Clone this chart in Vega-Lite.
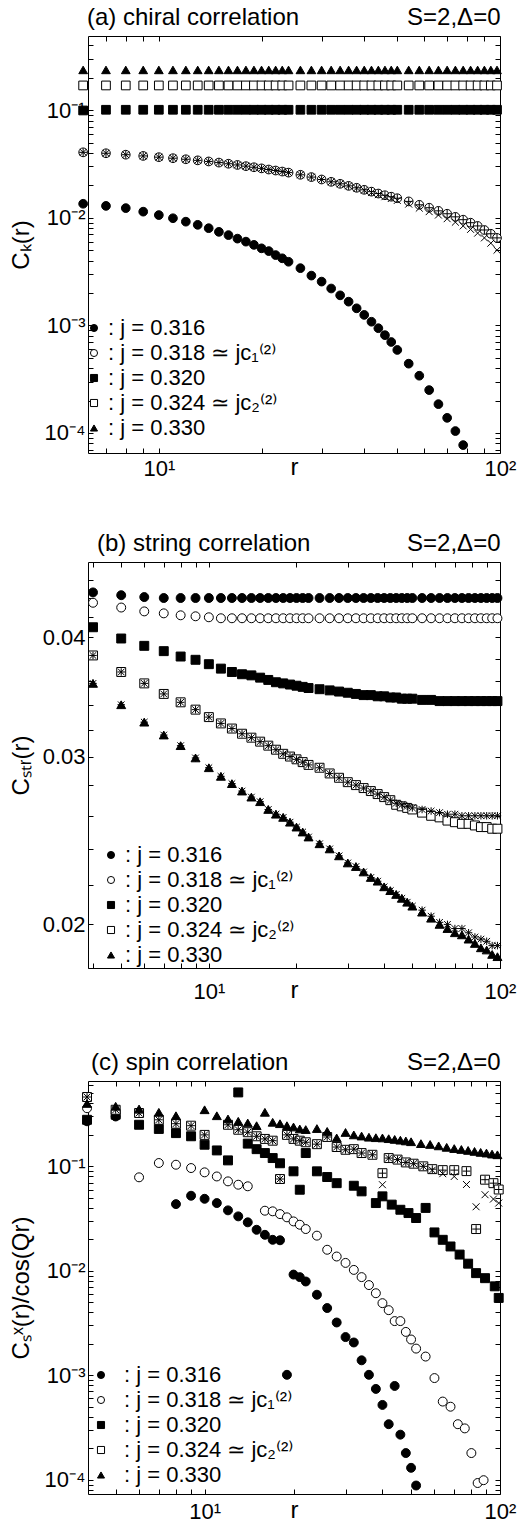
{
 "$schema": "https://vega.github.io/schema/vega-lite/v6.json",
 "background": "white",
 "padding": {"left": 8, "right": 0, "top": 5, "bottom": 0},
 "config": {
  "font": "Liberation Sans",
  "view": {"stroke": "black", "strokeWidth": 1},
  "axis": {"grid": false, "domain": false, "tickColor": "black", "tickSize": -5, "tickWidth": 1, "labelColor": "black", "labelFontSize": 22, "labelFont": "Liberation Sans", "titleFont": "Liberation Sans", "titleFontSize": 24, "titleFontWeight": "normal", "titleColor": "black", "labelOverlap": false, "labelFlush": false, "labelBound": false},
  "axisLeft": {"minExtent": 49, "maxExtent": 49, "titlePadding": 6},
  "legend": {"orient": "none", "direction": "vertical", "title": null, "labelFontSize": 22, "labelFont": "Liberation Sans", "labelColor": "black", "labelLimit": 400, "symbolSize": 50, "symbolStrokeWidth": 1, "rowPadding": 3, "padding": 0, "symbolOpacity": 1},
  "title": {"fontSize": 24, "fontWeight": "normal", "anchor": "start", "frame": "group", "color": "black", "font": "Liberation Sans"}
 },
 "datasets": {
  "a": [
   {"r":6,"v":0.0135,"s":"0.316"},{"r":7,"v":0.0129,"s":"0.316"},{"r":8,"v":0.0123,"s":"0.316"},{"r":9,"v":0.0114,"s":"0.316"},{"r":10,"v":0.0106,"s":"0.316"},{"r":11,"v":0.0099,"s":"0.316"},{"r":12,"v":0.0092,"s":"0.316"},{"r":13,"v":0.0086,"s":"0.316"},{"r":14,"v":0.008,"s":"0.316"},{"r":15,"v":0.0074,"s":"0.316"},{"r":16,"v":0.0069,"s":"0.316"},{"r":17,"v":0.0064,"s":"0.316"},{"r":18,"v":0.006,"s":"0.316"},{"r":19,"v":0.0056,"s":"0.316"},{"r":20,"v":0.0052,"s":"0.316"},{"r":21,"v":0.0049,"s":"0.316"},{"r":22,"v":0.0045,"s":"0.316"},{"r":23,"v":0.0042,"s":"0.316"},{"r":24,"v":0.0039,"s":"0.316"},{"r":26,"v":0.0034,"s":"0.316"},{"r":28,"v":0.0029,"s":"0.316"},{"r":30,"v":0.00255,"s":"0.316"},{"r":32,"v":0.0022,"s":"0.316"},{"r":34,"v":0.0019,"s":"0.316"},{"r":36,"v":0.00166,"s":"0.316"},{"r":38,"v":0.00144,"s":"0.316"},{"r":40,"v":0.00125,"s":"0.316"},{"r":42,"v":0.00108,"s":"0.316"},{"r":44,"v":0.00094,"s":"0.316"},{"r":46,"v":0.00081,"s":"0.316"},{"r":48,"v":0.0007,"s":"0.316"},{"r":50,"v":0.00059,"s":"0.316"},{"r":54,"v":0.00044,"s":"0.316"},{"r":58,"v":0.00034,"s":"0.316"},{"r":62,"v":0.00025,"s":"0.316"},{"r":66,"v":0.000185,"s":"0.316"},{"r":70,"v":0.000138,"s":"0.316"},{"r":74,"v":0.000104,"s":"0.316"},{"r":78,"v":0.000077,"s":"0.316"},
   {"r":6,"v":0.0406,"s":"0.318"},{"r":7,"v":0.0398,"s":"0.318"},{"r":8,"v":0.0386,"s":"0.318"},{"r":9,"v":0.0376,"s":"0.318"},{"r":10,"v":0.0366,"s":"0.318"},{"r":11,"v":0.0358,"s":"0.318"},{"r":12,"v":0.035,"s":"0.318"},{"r":13,"v":0.0342,"s":"0.318"},{"r":14,"v":0.0334,"s":"0.318"},{"r":15,"v":0.0326,"s":"0.318"},{"r":16,"v":0.0318,"s":"0.318"},{"r":17,"v":0.031,"s":"0.318"},{"r":18,"v":0.0302,"s":"0.318"},{"r":19,"v":0.0295,"s":"0.318"},{"r":20,"v":0.0288,"s":"0.318"},{"r":21,"v":0.0281,"s":"0.318"},{"r":22,"v":0.0275,"s":"0.318"},{"r":23,"v":0.0269,"s":"0.318"},{"r":24,"v":0.0263,"s":"0.318"},{"r":26,"v":0.0251,"s":"0.318"},{"r":28,"v":0.0239,"s":"0.318"},{"r":30,"v":0.0227,"s":"0.318"},{"r":32,"v":0.0216,"s":"0.318"},{"r":34,"v":0.0207,"s":"0.318"},{"r":36,"v":0.0198,"s":"0.318"},{"r":38,"v":0.019,"s":"0.318"},{"r":40,"v":0.0182,"s":"0.318"},{"r":42,"v":0.0175,"s":"0.318"},{"r":44,"v":0.0168,"s":"0.318"},{"r":46,"v":0.0162,"s":"0.318"},{"r":48,"v":0.0157,"s":"0.318"},{"r":50,"v":0.0152,"s":"0.318"},{"r":54,"v":0.0142,"s":"0.318"},{"r":58,"v":0.0132,"s":"0.318"},{"r":62,"v":0.0124,"s":"0.318"},{"r":66,"v":0.0116,"s":"0.318"},{"r":70,"v":0.0109,"s":"0.318"},{"r":74,"v":0.0102,"s":"0.318"},{"r":78,"v":0.0096,"s":"0.318"},{"r":82,"v":0.009,"s":"0.318"},{"r":86,"v":0.0084,"s":"0.318"},{"r":90,"v":0.0077,"s":"0.318"},{"r":94,"v":0.0071,"s":"0.318"},{"r":98,"v":0.0065,"s":"0.318"},
   {"r":6,"v":0.0995,"s":"0.320"},{"r":7,"v":0.101,"s":"0.320"},{"r":8,"v":0.101,"s":"0.320"},{"r":9,"v":0.101,"s":"0.320"},{"r":10,"v":0.101,"s":"0.320"},{"r":11,"v":0.101,"s":"0.320"},{"r":12,"v":0.101,"s":"0.320"},{"r":13,"v":0.101,"s":"0.320"},{"r":14,"v":0.101,"s":"0.320"},{"r":15,"v":0.101,"s":"0.320"},{"r":16,"v":0.101,"s":"0.320"},{"r":17,"v":0.101,"s":"0.320"},{"r":18,"v":0.101,"s":"0.320"},{"r":19,"v":0.101,"s":"0.320"},{"r":20,"v":0.101,"s":"0.320"},{"r":21,"v":0.101,"s":"0.320"},{"r":22,"v":0.101,"s":"0.320"},{"r":23,"v":0.101,"s":"0.320"},{"r":24,"v":0.101,"s":"0.320"},{"r":26,"v":0.101,"s":"0.320"},{"r":28,"v":0.101,"s":"0.320"},{"r":30,"v":0.101,"s":"0.320"},{"r":32,"v":0.101,"s":"0.320"},{"r":34,"v":0.101,"s":"0.320"},{"r":36,"v":0.101,"s":"0.320"},{"r":38,"v":0.101,"s":"0.320"},{"r":40,"v":0.101,"s":"0.320"},{"r":42,"v":0.101,"s":"0.320"},{"r":44,"v":0.101,"s":"0.320"},{"r":46,"v":0.101,"s":"0.320"},{"r":48,"v":0.101,"s":"0.320"},{"r":50,"v":0.101,"s":"0.320"},{"r":54,"v":0.101,"s":"0.320"},{"r":58,"v":0.101,"s":"0.320"},{"r":62,"v":0.101,"s":"0.320"},{"r":66,"v":0.101,"s":"0.320"},{"r":70,"v":0.101,"s":"0.320"},{"r":74,"v":0.101,"s":"0.320"},{"r":78,"v":0.101,"s":"0.320"},{"r":82,"v":0.101,"s":"0.320"},{"r":86,"v":0.101,"s":"0.320"},{"r":90,"v":0.101,"s":"0.320"},{"r":94,"v":0.101,"s":"0.320"},{"r":98,"v":0.101,"s":"0.320"},
   {"r":6,"v":0.17,"s":"0.324"},{"r":7,"v":0.17,"s":"0.324"},{"r":8,"v":0.17,"s":"0.324"},{"r":9,"v":0.17,"s":"0.324"},{"r":10,"v":0.17,"s":"0.324"},{"r":11,"v":0.17,"s":"0.324"},{"r":12,"v":0.17,"s":"0.324"},{"r":13,"v":0.17,"s":"0.324"},{"r":14,"v":0.17,"s":"0.324"},{"r":15,"v":0.17,"s":"0.324"},{"r":16,"v":0.17,"s":"0.324"},{"r":17,"v":0.17,"s":"0.324"},{"r":18,"v":0.17,"s":"0.324"},{"r":19,"v":0.17,"s":"0.324"},{"r":20,"v":0.17,"s":"0.324"},{"r":21,"v":0.17,"s":"0.324"},{"r":22,"v":0.17,"s":"0.324"},{"r":23,"v":0.17,"s":"0.324"},{"r":24,"v":0.17,"s":"0.324"},{"r":26,"v":0.17,"s":"0.324"},{"r":28,"v":0.17,"s":"0.324"},{"r":30,"v":0.17,"s":"0.324"},{"r":32,"v":0.17,"s":"0.324"},{"r":34,"v":0.17,"s":"0.324"},{"r":36,"v":0.17,"s":"0.324"},{"r":38,"v":0.17,"s":"0.324"},{"r":40,"v":0.17,"s":"0.324"},{"r":42,"v":0.17,"s":"0.324"},{"r":44,"v":0.17,"s":"0.324"},{"r":46,"v":0.17,"s":"0.324"},{"r":48,"v":0.17,"s":"0.324"},{"r":50,"v":0.17,"s":"0.324"},{"r":54,"v":0.17,"s":"0.324"},{"r":58,"v":0.17,"s":"0.324"},{"r":62,"v":0.17,"s":"0.324"},{"r":66,"v":0.17,"s":"0.324"},{"r":70,"v":0.17,"s":"0.324"},{"r":74,"v":0.17,"s":"0.324"},{"r":78,"v":0.17,"s":"0.324"},{"r":82,"v":0.17,"s":"0.324"},{"r":86,"v":0.17,"s":"0.324"},{"r":90,"v":0.17,"s":"0.324"},{"r":94,"v":0.17,"s":"0.324"},{"r":98,"v":0.17,"s":"0.324"},
   {"r":6,"v":0.237,"s":"0.330"},{"r":7,"v":0.237,"s":"0.330"},{"r":8,"v":0.237,"s":"0.330"},{"r":9,"v":0.237,"s":"0.330"},{"r":10,"v":0.237,"s":"0.330"},{"r":11,"v":0.237,"s":"0.330"},{"r":12,"v":0.237,"s":"0.330"},{"r":13,"v":0.237,"s":"0.330"},{"r":14,"v":0.237,"s":"0.330"},{"r":15,"v":0.237,"s":"0.330"},{"r":16,"v":0.237,"s":"0.330"},{"r":17,"v":0.237,"s":"0.330"},{"r":18,"v":0.237,"s":"0.330"},{"r":19,"v":0.237,"s":"0.330"},{"r":20,"v":0.237,"s":"0.330"},{"r":21,"v":0.237,"s":"0.330"},{"r":22,"v":0.237,"s":"0.330"},{"r":23,"v":0.237,"s":"0.330"},{"r":24,"v":0.237,"s":"0.330"},{"r":26,"v":0.237,"s":"0.330"},{"r":28,"v":0.237,"s":"0.330"},{"r":30,"v":0.237,"s":"0.330"},{"r":32,"v":0.237,"s":"0.330"},{"r":34,"v":0.237,"s":"0.330"},{"r":36,"v":0.237,"s":"0.330"},{"r":38,"v":0.237,"s":"0.330"},{"r":40,"v":0.237,"s":"0.330"},{"r":42,"v":0.237,"s":"0.330"},{"r":44,"v":0.237,"s":"0.330"},{"r":46,"v":0.237,"s":"0.330"},{"r":48,"v":0.237,"s":"0.330"},{"r":50,"v":0.237,"s":"0.330"},{"r":54,"v":0.237,"s":"0.330"},{"r":58,"v":0.237,"s":"0.330"},{"r":62,"v":0.237,"s":"0.330"},{"r":66,"v":0.237,"s":"0.330"},{"r":70,"v":0.237,"s":"0.330"},{"r":74,"v":0.237,"s":"0.330"},{"r":78,"v":0.237,"s":"0.330"},{"r":82,"v":0.237,"s":"0.330"},{"r":86,"v":0.237,"s":"0.330"},{"r":90,"v":0.237,"s":"0.330"},{"r":94,"v":0.237,"s":"0.330"},{"r":98,"v":0.237,"s":"0.330"},
   {"r":6,"v":0.0406,"s":"x"},{"r":7,"v":0.0398,"s":"x"},{"r":8,"v":0.0386,"s":"x"},{"r":9,"v":0.0376,"s":"x"},{"r":10,"v":0.0366,"s":"x"},{"r":11,"v":0.0358,"s":"x"},{"r":12,"v":0.035,"s":"x"},{"r":13,"v":0.0342,"s":"x"},{"r":14,"v":0.0334,"s":"x"},{"r":15,"v":0.0326,"s":"x"},{"r":16,"v":0.0318,"s":"x"},{"r":17,"v":0.031,"s":"x"},{"r":18,"v":0.0302,"s":"x"},{"r":19,"v":0.0295,"s":"x"},{"r":20,"v":0.0288,"s":"x"},{"r":21,"v":0.0281,"s":"x"},{"r":22,"v":0.0275,"s":"x"},{"r":23,"v":0.0269,"s":"x"},{"r":24,"v":0.0263,"s":"x"},{"r":26,"v":0.0251,"s":"x"},{"r":28,"v":0.0239,"s":"x"},{"r":30,"v":0.0227,"s":"x"},{"r":32,"v":0.0216,"s":"x"},{"r":34,"v":0.0207,"s":"x"},{"r":36,"v":0.0198,"s":"x"},{"r":38,"v":0.0189,"s":"x"},{"r":40,"v":0.018,"s":"x"},{"r":42,"v":0.0172,"s":"x"},{"r":44,"v":0.0164,"s":"x"},{"r":46,"v":0.0157,"s":"x"},{"r":48,"v":0.0151,"s":"x"},{"r":50,"v":0.0145,"s":"x"},{"r":54,"v":0.0134,"s":"x"},{"r":58,"v":0.0123,"s":"x"},{"r":62,"v":0.0114,"s":"x"},{"r":66,"v":0.0106,"s":"x"},{"r":70,"v":0.0098,"s":"x"},{"r":74,"v":0.0091,"s":"x"},{"r":78,"v":0.0084,"s":"x"},{"r":82,"v":0.0078,"s":"x"},{"r":86,"v":0.0072,"s":"x"},{"r":90,"v":0.0065,"s":"x"},{"r":94,"v":0.0058,"s":"x"},{"r":98,"v":0.005,"s":"x"},
   {"r":6,"v":0.0406,"s":"+"},{"r":7,"v":0.0398,"s":"+"},{"r":8,"v":0.0386,"s":"+"},{"r":9,"v":0.0376,"s":"+"},{"r":10,"v":0.0366,"s":"+"},{"r":11,"v":0.0358,"s":"+"},{"r":12,"v":0.035,"s":"+"},{"r":13,"v":0.0342,"s":"+"},{"r":14,"v":0.0334,"s":"+"},{"r":15,"v":0.0326,"s":"+"},{"r":16,"v":0.0318,"s":"+"},{"r":17,"v":0.031,"s":"+"},{"r":18,"v":0.0302,"s":"+"},{"r":19,"v":0.0295,"s":"+"},{"r":20,"v":0.0288,"s":"+"},{"r":21,"v":0.0281,"s":"+"},{"r":22,"v":0.0275,"s":"+"},{"r":23,"v":0.0269,"s":"+"},{"r":24,"v":0.0263,"s":"+"},{"r":26,"v":0.0251,"s":"+"},{"r":28,"v":0.0239,"s":"+"},{"r":30,"v":0.0227,"s":"+"},{"r":32,"v":0.0216,"s":"+"},{"r":34,"v":0.0207,"s":"+"},{"r":36,"v":0.0198,"s":"+"},{"r":38,"v":0.019,"s":"+"},{"r":40,"v":0.0182,"s":"+"},{"r":42,"v":0.0175,"s":"+"},{"r":44,"v":0.0168,"s":"+"},{"r":46,"v":0.0162,"s":"+"},{"r":48,"v":0.0157,"s":"+"},{"r":50,"v":0.0152,"s":"+"},{"r":54,"v":0.0142,"s":"+"},{"r":58,"v":0.0132,"s":"+"},{"r":62,"v":0.0124,"s":"+"},{"r":66,"v":0.0116,"s":"+"},{"r":70,"v":0.0109,"s":"+"},{"r":74,"v":0.0102,"s":"+"},{"r":78,"v":0.0096,"s":"+"},{"r":82,"v":0.009,"s":"+"},{"r":86,"v":0.0084,"s":"+"},{"r":90,"v":0.0077,"s":"+"},{"r":94,"v":0.0071,"s":"+"},{"r":98,"v":0.0065,"s":"+"}
  ],
  "b": [
   {"r":4,"v":0.0446,"s":"0.316"},{"r":5,"v":0.0443,"s":"0.316"},{"r":6,"v":0.0441,"s":"0.316"},{"r":7,"v":0.044,"s":"0.316"},{"r":8,"v":0.044,"s":"0.316"},{"r":9,"v":0.044,"s":"0.316"},{"r":10,"v":0.044,"s":"0.316"},{"r":11,"v":0.044,"s":"0.316"},{"r":12,"v":0.044,"s":"0.316"},{"r":13,"v":0.044,"s":"0.316"},{"r":14,"v":0.044,"s":"0.316"},{"r":15,"v":0.044,"s":"0.316"},{"r":16,"v":0.044,"s":"0.316"},{"r":17,"v":0.044,"s":"0.316"},{"r":18,"v":0.044,"s":"0.316"},{"r":19,"v":0.044,"s":"0.316"},{"r":20,"v":0.044,"s":"0.316"},{"r":21,"v":0.044,"s":"0.316"},{"r":22,"v":0.044,"s":"0.316"},{"r":24,"v":0.044,"s":"0.316"},{"r":26,"v":0.044,"s":"0.316"},{"r":28,"v":0.044,"s":"0.316"},{"r":30,"v":0.044,"s":"0.316"},{"r":32,"v":0.044,"s":"0.316"},{"r":34,"v":0.044,"s":"0.316"},{"r":36,"v":0.044,"s":"0.316"},{"r":38,"v":0.044,"s":"0.316"},{"r":40,"v":0.044,"s":"0.316"},{"r":42,"v":0.044,"s":"0.316"},{"r":44,"v":0.044,"s":"0.316"},{"r":46,"v":0.044,"s":"0.316"},{"r":48,"v":0.044,"s":"0.316"},{"r":50,"v":0.044,"s":"0.316"},{"r":54,"v":0.044,"s":"0.316"},{"r":58,"v":0.044,"s":"0.316"},{"r":62,"v":0.044,"s":"0.316"},{"r":66,"v":0.044,"s":"0.316"},{"r":70,"v":0.044,"s":"0.316"},{"r":74,"v":0.044,"s":"0.316"},{"r":78,"v":0.044,"s":"0.316"},{"r":82,"v":0.044,"s":"0.316"},{"r":86,"v":0.044,"s":"0.316"},{"r":90,"v":0.044,"s":"0.316"},{"r":94,"v":0.044,"s":"0.316"},{"r":98,"v":0.044,"s":"0.316"},
   {"r":4,"v":0.0435,"s":"0.318"},{"r":5,"v":0.043,"s":"0.318"},{"r":6,"v":0.0426,"s":"0.318"},{"r":7,"v":0.0424,"s":"0.318"},{"r":8,"v":0.0422,"s":"0.318"},{"r":9,"v":0.0421,"s":"0.318"},{"r":10,"v":0.042,"s":"0.318"},{"r":11,"v":0.0419,"s":"0.318"},{"r":12,"v":0.0419,"s":"0.318"},{"r":13,"v":0.0419,"s":"0.318"},{"r":14,"v":0.0419,"s":"0.318"},{"r":15,"v":0.0419,"s":"0.318"},{"r":16,"v":0.0419,"s":"0.318"},{"r":17,"v":0.0419,"s":"0.318"},{"r":18,"v":0.0419,"s":"0.318"},{"r":19,"v":0.0419,"s":"0.318"},{"r":20,"v":0.0419,"s":"0.318"},{"r":21,"v":0.0419,"s":"0.318"},{"r":22,"v":0.0419,"s":"0.318"},{"r":24,"v":0.0419,"s":"0.318"},{"r":26,"v":0.0419,"s":"0.318"},{"r":28,"v":0.0419,"s":"0.318"},{"r":30,"v":0.0419,"s":"0.318"},{"r":32,"v":0.0419,"s":"0.318"},{"r":34,"v":0.0419,"s":"0.318"},{"r":36,"v":0.0419,"s":"0.318"},{"r":38,"v":0.0419,"s":"0.318"},{"r":40,"v":0.0419,"s":"0.318"},{"r":42,"v":0.0419,"s":"0.318"},{"r":44,"v":0.0419,"s":"0.318"},{"r":46,"v":0.0419,"s":"0.318"},{"r":48,"v":0.0419,"s":"0.318"},{"r":50,"v":0.0419,"s":"0.318"},{"r":54,"v":0.0419,"s":"0.318"},{"r":58,"v":0.0419,"s":"0.318"},{"r":62,"v":0.0419,"s":"0.318"},{"r":66,"v":0.0419,"s":"0.318"},{"r":70,"v":0.0419,"s":"0.318"},{"r":74,"v":0.0419,"s":"0.318"},{"r":78,"v":0.0419,"s":"0.318"},{"r":82,"v":0.0419,"s":"0.318"},{"r":86,"v":0.0419,"s":"0.318"},{"r":90,"v":0.0419,"s":"0.318"},{"r":94,"v":0.0419,"s":"0.318"},{"r":98,"v":0.0419,"s":"0.318"},
   {"r":4,"v":0.041,"s":"0.320"},{"r":5,"v":0.0399,"s":"0.320"},{"r":6,"v":0.0392,"s":"0.320"},{"r":7,"v":0.0387,"s":"0.320"},{"r":8,"v":0.0382,"s":"0.320"},{"r":9,"v":0.0379,"s":"0.320"},{"r":10,"v":0.0375,"s":"0.320"},{"r":11,"v":0.0371,"s":"0.320"},{"r":12,"v":0.0368,"s":"0.320"},{"r":13,"v":0.0366,"s":"0.320"},{"r":14,"v":0.0365,"s":"0.320"},{"r":15,"v":0.0363,"s":"0.320"},{"r":16,"v":0.0361,"s":"0.320"},{"r":17,"v":0.0359,"s":"0.320"},{"r":18,"v":0.0358,"s":"0.320"},{"r":19,"v":0.0357,"s":"0.320"},{"r":20,"v":0.0356,"s":"0.320"},{"r":21,"v":0.0355,"s":"0.320"},{"r":22,"v":0.0354,"s":"0.320"},{"r":24,"v":0.0353,"s":"0.320"},{"r":26,"v":0.0352,"s":"0.320"},{"r":28,"v":0.0351,"s":"0.320"},{"r":30,"v":0.035,"s":"0.320"},{"r":32,"v":0.0349,"s":"0.320"},{"r":34,"v":0.0348,"s":"0.320"},{"r":36,"v":0.0348,"s":"0.320"},{"r":38,"v":0.0347,"s":"0.320"},{"r":40,"v":0.0347,"s":"0.320"},{"r":42,"v":0.0346,"s":"0.320"},{"r":44,"v":0.0346,"s":"0.320"},{"r":46,"v":0.0345,"s":"0.320"},{"r":48,"v":0.0345,"s":"0.320"},{"r":50,"v":0.0345,"s":"0.320"},{"r":54,"v":0.0344,"s":"0.320"},{"r":58,"v":0.0344,"s":"0.320"},{"r":62,"v":0.0343,"s":"0.320"},{"r":66,"v":0.0343,"s":"0.320"},{"r":70,"v":0.0343,"s":"0.320"},{"r":74,"v":0.0343,"s":"0.320"},{"r":78,"v":0.0343,"s":"0.320"},{"r":82,"v":0.0343,"s":"0.320"},{"r":86,"v":0.0343,"s":"0.320"},{"r":90,"v":0.0343,"s":"0.320"},{"r":94,"v":0.0343,"s":"0.320"},{"r":98,"v":0.0343,"s":"0.320"},
   {"r":4,"v":0.0383,"s":"0.324"},{"r":5,"v":0.0368,"s":"0.324"},{"r":6,"v":0.0358,"s":"0.324"},{"r":7,"v":0.0349,"s":"0.324"},{"r":8,"v":0.0342,"s":"0.324"},{"r":9,"v":0.0336,"s":"0.324"},{"r":10,"v":0.033,"s":"0.324"},{"r":11,"v":0.0325,"s":"0.324"},{"r":12,"v":0.0321,"s":"0.324"},{"r":13,"v":0.0317,"s":"0.324"},{"r":14,"v":0.0314,"s":"0.324"},{"r":15,"v":0.0311,"s":"0.324"},{"r":16,"v":0.0308,"s":"0.324"},{"r":17,"v":0.0305,"s":"0.324"},{"r":18,"v":0.0302,"s":"0.324"},{"r":19,"v":0.03,"s":"0.324"},{"r":20,"v":0.0298,"s":"0.324"},{"r":21,"v":0.0296,"s":"0.324"},{"r":22,"v":0.0294,"s":"0.324"},{"r":24,"v":0.0292,"s":"0.324"},{"r":26,"v":0.0288,"s":"0.324"},{"r":28,"v":0.0285,"s":"0.324"},{"r":30,"v":0.0282,"s":"0.324"},{"r":32,"v":0.028,"s":"0.324"},{"r":34,"v":0.0278,"s":"0.324"},{"r":36,"v":0.0276,"s":"0.324"},{"r":38,"v":0.0274,"s":"0.324"},{"r":40,"v":0.0272,"s":"0.324"},{"r":42,"v":0.027,"s":"0.324"},{"r":44,"v":0.0267,"s":"0.324"},{"r":46,"v":0.0266,"s":"0.324"},{"r":48,"v":0.0265,"s":"0.324"},{"r":50,"v":0.0264,"s":"0.324"},{"r":54,"v":0.0262,"s":"0.324"},{"r":58,"v":0.026,"s":"0.324"},{"r":62,"v":0.0259,"s":"0.324"},{"r":66,"v":0.0257,"s":"0.324"},{"r":70,"v":0.0256,"s":"0.324"},{"r":74,"v":0.0255,"s":"0.324"},{"r":78,"v":0.0255,"s":"0.324"},{"r":82,"v":0.0254,"s":"0.324"},{"r":86,"v":0.0253,"s":"0.324"},{"r":90,"v":0.0253,"s":"0.324"},{"r":94,"v":0.0252,"s":"0.324"},{"r":98,"v":0.0252,"s":"0.324"},
   {"r":4,"v":0.0358,"s":"0.330"},{"r":5,"v":0.034,"s":"0.330"},{"r":6,"v":0.0326,"s":"0.330"},{"r":7,"v":0.0316,"s":"0.330"},{"r":8,"v":0.0308,"s":"0.330"},{"r":9,"v":0.0299,"s":"0.330"},{"r":10,"v":0.0292,"s":"0.330"},{"r":11,"v":0.0286,"s":"0.330"},{"r":12,"v":0.0281,"s":"0.330"},{"r":13,"v":0.0276,"s":"0.330"},{"r":14,"v":0.0272,"s":"0.330"},{"r":15,"v":0.0269,"s":"0.330"},{"r":16,"v":0.0264,"s":"0.330"},{"r":17,"v":0.0261,"s":"0.330"},{"r":18,"v":0.0259,"s":"0.330"},{"r":19,"v":0.0256,"s":"0.330"},{"r":20,"v":0.0253,"s":"0.330"},{"r":21,"v":0.025,"s":"0.330"},{"r":22,"v":0.0247,"s":"0.330"},{"r":24,"v":0.0243,"s":"0.330"},{"r":26,"v":0.024,"s":"0.330"},{"r":28,"v":0.0236,"s":"0.330"},{"r":30,"v":0.0232,"s":"0.330"},{"r":32,"v":0.023,"s":"0.330"},{"r":34,"v":0.0227,"s":"0.330"},{"r":36,"v":0.0224,"s":"0.330"},{"r":38,"v":0.0222,"s":"0.330"},{"r":40,"v":0.0219,"s":"0.330"},{"r":42,"v":0.0217,"s":"0.330"},{"r":44,"v":0.0215,"s":"0.330"},{"r":46,"v":0.0213,"s":"0.330"},{"r":48,"v":0.0211,"s":"0.330"},{"r":50,"v":0.0209,"s":"0.330"},{"r":54,"v":0.0206,"s":"0.330"},{"r":58,"v":0.0203,"s":"0.330"},{"r":62,"v":0.02,"s":"0.330"},{"r":66,"v":0.0198,"s":"0.330"},{"r":70,"v":0.0196,"s":"0.330"},{"r":74,"v":0.0195,"s":"0.330"},{"r":78,"v":0.0193,"s":"0.330"},{"r":82,"v":0.0191,"s":"0.330"},{"r":86,"v":0.0189,"s":"0.330"},{"r":90,"v":0.0188,"s":"0.330"},{"r":94,"v":0.0186,"s":"0.330"},{"r":98,"v":0.0185,"s":"0.330"},
   {"r":4,"v":0.0383,"s":"x"},{"r":5,"v":0.0368,"s":"x"},{"r":6,"v":0.0358,"s":"x"},{"r":7,"v":0.0349,"s":"x"},{"r":8,"v":0.0342,"s":"x"},{"r":9,"v":0.0336,"s":"x"},{"r":10,"v":0.033,"s":"x"},{"r":11,"v":0.0325,"s":"x"},{"r":12,"v":0.0321,"s":"x"},{"r":13,"v":0.0317,"s":"x"},{"r":14,"v":0.0314,"s":"x"},{"r":15,"v":0.0311,"s":"x"},{"r":16,"v":0.0308,"s":"x"},{"r":17,"v":0.0305,"s":"x"},{"r":18,"v":0.0302,"s":"x"},{"r":19,"v":0.03,"s":"x"},{"r":20,"v":0.0298,"s":"x"},{"r":21,"v":0.0296,"s":"x"},{"r":22,"v":0.0294,"s":"x"},{"r":24,"v":0.0292,"s":"x"},{"r":26,"v":0.0288,"s":"x"},{"r":28,"v":0.0285,"s":"x"},{"r":30,"v":0.0282,"s":"x"},{"r":32,"v":0.028,"s":"x"},{"r":34,"v":0.0278,"s":"x"},{"r":36,"v":0.0276,"s":"x"},{"r":38,"v":0.0274,"s":"x"},{"r":40,"v":0.0272,"s":"x"},{"r":42,"v":0.027,"s":"x"},{"r":44,"v":0.0268,"s":"x"},{"r":46,"v":0.0267,"s":"x"},{"r":48,"v":0.0266,"s":"x"},{"r":50,"v":0.0265,"s":"x"},{"r":54,"v":0.0264,"s":"x"},{"r":58,"v":0.0263,"s":"x"},{"r":62,"v":0.0262,"s":"x"},{"r":66,"v":0.0261,"s":"x"},{"r":70,"v":0.0261,"s":"x"},{"r":74,"v":0.026,"s":"x"},{"r":78,"v":0.026,"s":"x"},{"r":82,"v":0.026,"s":"x"},{"r":86,"v":0.026,"s":"x"},{"r":90,"v":0.026,"s":"x"},{"r":94,"v":0.026,"s":"x"},{"r":98,"v":0.026,"s":"x"},
   {"r":4,"v":0.0358,"s":"x"},{"r":5,"v":0.034,"s":"x"},{"r":6,"v":0.0326,"s":"x"},{"r":7,"v":0.0316,"s":"x"},{"r":8,"v":0.0308,"s":"x"},{"r":9,"v":0.0299,"s":"x"},{"r":10,"v":0.0292,"s":"x"},{"r":11,"v":0.0286,"s":"x"},{"r":12,"v":0.0281,"s":"x"},{"r":13,"v":0.0276,"s":"x"},{"r":14,"v":0.0272,"s":"x"},{"r":15,"v":0.0269,"s":"x"},{"r":16,"v":0.0264,"s":"x"},{"r":17,"v":0.0261,"s":"x"},{"r":18,"v":0.0259,"s":"x"},{"r":19,"v":0.0256,"s":"x"},{"r":20,"v":0.0253,"s":"x"},{"r":21,"v":0.025,"s":"x"},{"r":22,"v":0.0247,"s":"x"},{"r":24,"v":0.0243,"s":"x"},{"r":26,"v":0.024,"s":"x"},{"r":28,"v":0.0236,"s":"x"},{"r":30,"v":0.0232,"s":"x"},{"r":32,"v":0.023,"s":"x"},{"r":34,"v":0.0227,"s":"x"},{"r":36,"v":0.0224,"s":"x"},{"r":38,"v":0.0222,"s":"x"},{"r":40,"v":0.0219,"s":"x"},{"r":42,"v":0.0217,"s":"x"},{"r":44,"v":0.0215,"s":"x"},{"r":46,"v":0.0213,"s":"x"},{"r":48,"v":0.0211,"s":"x"},{"r":50,"v":0.0209,"s":"x"},{"r":54,"v":0.0207,"s":"x"},{"r":58,"v":0.0204,"s":"x"},{"r":62,"v":0.0201,"s":"x"},{"r":66,"v":0.02,"s":"x"},{"r":70,"v":0.0198,"s":"x"},{"r":74,"v":0.0198,"s":"x"},{"r":78,"v":0.0196,"s":"x"},{"r":82,"v":0.0194,"s":"x"},{"r":86,"v":0.0193,"s":"x"},{"r":90,"v":0.0192,"s":"x"},{"r":94,"v":0.019,"s":"x"},{"r":98,"v":0.019,"s":"x"},
   {"r":4,"v":0.0383,"s":"+"},{"r":5,"v":0.0368,"s":"+"},{"r":6,"v":0.0358,"s":"+"},{"r":7,"v":0.0349,"s":"+"},{"r":8,"v":0.0342,"s":"+"},{"r":9,"v":0.0336,"s":"+"},{"r":10,"v":0.033,"s":"+"},{"r":11,"v":0.0325,"s":"+"},{"r":12,"v":0.0321,"s":"+"},{"r":13,"v":0.0317,"s":"+"},{"r":14,"v":0.0314,"s":"+"},{"r":15,"v":0.0311,"s":"+"},{"r":16,"v":0.0308,"s":"+"},{"r":17,"v":0.0305,"s":"+"},{"r":18,"v":0.0302,"s":"+"},{"r":19,"v":0.03,"s":"+"},{"r":20,"v":0.0298,"s":"+"},{"r":21,"v":0.0296,"s":"+"},{"r":22,"v":0.0294,"s":"+"},{"r":24,"v":0.0292,"s":"+"},{"r":26,"v":0.0288,"s":"+"},{"r":28,"v":0.0285,"s":"+"},{"r":30,"v":0.0282,"s":"+"},{"r":32,"v":0.028,"s":"+"},{"r":34,"v":0.0278,"s":"+"},{"r":36,"v":0.0276,"s":"+"},{"r":38,"v":0.0274,"s":"+"},{"r":40,"v":0.0272,"s":"+"},{"r":42,"v":0.027,"s":"+"},{"r":44,"v":0.0268,"s":"+"},{"r":46,"v":0.0267,"s":"+"},{"r":48,"v":0.0266,"s":"+"},{"r":50,"v":0.0265,"s":"+"},{"r":54,"v":0.0264,"s":"+"},{"r":58,"v":0.0263,"s":"+"},{"r":62,"v":0.0262,"s":"+"},{"r":66,"v":0.0261,"s":"+"},{"r":70,"v":0.0261,"s":"+"},{"r":74,"v":0.026,"s":"+"},{"r":78,"v":0.026,"s":"+"},{"r":82,"v":0.026,"s":"+"},{"r":86,"v":0.026,"s":"+"},{"r":90,"v":0.026,"s":"+"},{"r":94,"v":0.026,"s":"+"},{"r":98,"v":0.026,"s":"+"},
   {"r":4,"v":0.0358,"s":"+"},{"r":5,"v":0.034,"s":"+"},{"r":6,"v":0.0326,"s":"+"},{"r":7,"v":0.0316,"s":"+"},{"r":8,"v":0.0308,"s":"+"},{"r":9,"v":0.0299,"s":"+"},{"r":10,"v":0.0292,"s":"+"},{"r":11,"v":0.0286,"s":"+"},{"r":12,"v":0.0281,"s":"+"},{"r":13,"v":0.0276,"s":"+"},{"r":14,"v":0.0272,"s":"+"},{"r":15,"v":0.0269,"s":"+"},{"r":16,"v":0.0264,"s":"+"},{"r":17,"v":0.0261,"s":"+"},{"r":18,"v":0.0259,"s":"+"},{"r":19,"v":0.0256,"s":"+"},{"r":20,"v":0.0253,"s":"+"},{"r":21,"v":0.025,"s":"+"},{"r":22,"v":0.0247,"s":"+"},{"r":24,"v":0.0243,"s":"+"},{"r":26,"v":0.024,"s":"+"},{"r":28,"v":0.0236,"s":"+"},{"r":30,"v":0.0232,"s":"+"},{"r":32,"v":0.023,"s":"+"},{"r":34,"v":0.0227,"s":"+"},{"r":36,"v":0.0224,"s":"+"},{"r":38,"v":0.0222,"s":"+"},{"r":40,"v":0.0219,"s":"+"},{"r":42,"v":0.0217,"s":"+"},{"r":44,"v":0.0215,"s":"+"},{"r":46,"v":0.0213,"s":"+"},{"r":48,"v":0.0211,"s":"+"},{"r":50,"v":0.0209,"s":"+"},{"r":54,"v":0.0207,"s":"+"},{"r":58,"v":0.0204,"s":"+"},{"r":62,"v":0.0201,"s":"+"},{"r":66,"v":0.02,"s":"+"},{"r":70,"v":0.0198,"s":"+"},{"r":74,"v":0.0198,"s":"+"},{"r":78,"v":0.0196,"s":"+"},{"r":82,"v":0.0194,"s":"+"},{"r":86,"v":0.0193,"s":"+"},{"r":90,"v":0.0192,"s":"+"},{"r":94,"v":0.019,"s":"+"},{"r":98,"v":0.019,"s":"+"}
  ],
  "c": [
   {"r":4,"v":0.27,"s":"0.316"},{"r":5,"v":0.3,"s":"0.316"},{"r":8,"v":0.0435,"s":"0.316"},{"r":9,"v":0.0523,"s":"0.316"},{"r":10,"v":0.0489,"s":"0.316"},{"r":11,"v":0.0445,"s":"0.316"},{"r":12,"v":0.0379,"s":"0.316"},{"r":13,"v":0.0332,"s":"0.316"},{"r":14,"v":0.0291,"s":"0.316"},{"r":15,"v":0.0247,"s":"0.316"},{"r":16,"v":0.0221,"s":"0.316"},{"r":17,"v":0.0198,"s":"0.316"},{"r":18,"v":0.0196,"s":"0.316"},{"r":19,"v":0.00101,"s":"0.316"},{"r":20,"v":0.0092,"s":"0.316"},{"r":21,"v":0.0087,"s":"0.316"},{"r":22,"v":0.0079,"s":"0.316"},{"r":24,"v":0.0059,"s":"0.316"},{"r":26,"v":0.0044,"s":"0.316"},{"r":28,"v":0.0032,"s":"0.316"},{"r":30,"v":0.00232,"s":"0.316"},{"r":32,"v":0.00206,"s":"0.316"},{"r":34,"v":0.00139,"s":"0.316"},{"r":36,"v":0.00101,"s":"0.316"},{"r":38,"v":0.00074,"s":"0.316"},{"r":40,"v":0.00052,"s":"0.316"},{"r":42,"v":0.00034,"s":"0.316"},{"r":44,"v":0.00079,"s":"0.316"},{"r":46,"v":0.00027,"s":"0.316"},{"r":48,"v":0.00018,"s":"0.316"},{"r":50,"v":0.00013,"s":"0.316"},{"r":52,"v":0.000088,"s":"0.316"},
   {"r":4,"v":0.36,"s":"0.318"},{"r":6,"v":0.0785,"s":"0.318"},{"r":7,"v":0.1076,"s":"0.318"},{"r":8,"v":0.1036,"s":"0.318"},{"r":9,"v":0.0963,"s":"0.318"},{"r":10,"v":0.0876,"s":"0.318"},{"r":11,"v":0.08,"s":"0.318"},{"r":12,"v":0.0718,"s":"0.318"},{"r":13,"v":0.0667,"s":"0.318"},{"r":14,"v":0.0644,"s":"0.318"},{"r":16,"v":0.0376,"s":"0.318"},{"r":17,"v":0.0371,"s":"0.318"},{"r":18,"v":0.0349,"s":"0.318"},{"r":19,"v":0.0325,"s":"0.318"},{"r":20,"v":0.0297,"s":"0.318"},{"r":21,"v":0.0276,"s":"0.318"},{"r":22,"v":0.0251,"s":"0.318"},{"r":24,"v":0.0217,"s":"0.318"},{"r":26,"v":0.0159,"s":"0.318"},{"r":28,"v":0.0137,"s":"0.318"},{"r":30,"v":0.0119,"s":"0.318"},{"r":32,"v":0.0102,"s":"0.318"},{"r":34,"v":0.0087,"s":"0.318"},{"r":36,"v":0.0073,"s":"0.318"},{"r":38,"v":0.0061,"s":"0.318"},{"r":40,"v":0.0049,"s":"0.318"},{"r":42,"v":0.0042,"s":"0.318"},{"r":44,"v":0.0033,"s":"0.318"},{"r":46,"v":0.0033,"s":"0.318"},{"r":48,"v":0.0026,"s":"0.318"},{"r":50,"v":0.0022,"s":"0.318"},{"r":52,"v":0.0018,"s":"0.318"},{"r":56,"v":0.00151,"s":"0.318"},{"r":60,"v":0.00094,"s":"0.318"},{"r":64,"v":0.00056,"s":"0.318"},{"r":68,"v":0.0005,"s":"0.318"},{"r":72,"v":0.00034,"s":"0.318"},{"r":76,"v":0.00031,"s":"0.318"},{"r":80,"v":0.00018,"s":"0.318"},{"r":84,"v":0.000093,"s":"0.318"},{"r":88,"v":0.000099,"s":"0.318"},
   {"r":4,"v":0.279,"s":"0.320"},{"r":5,"v":0.312,"s":"0.320"},{"r":6,"v":0.25,"s":"0.320"},{"r":7,"v":0.228,"s":"0.320"},{"r":8,"v":0.208,"s":"0.320"},{"r":9,"v":0.194,"s":"0.320"},{"r":10,"v":0.161,"s":"0.320"},{"r":11,"v":0.142,"s":"0.320"},{"r":12,"v":0.114,"s":"0.320"},{"r":13,"v":0.51,"s":"0.320"},{"r":14,"v":0.165,"s":"0.320"},{"r":15,"v":0.146,"s":"0.320"},{"r":16,"v":0.134,"s":"0.320"},{"r":17,"v":0.12,"s":"0.320"},{"r":18,"v":0.107,"s":"0.320"},{"r":20,"v":0.0896,"s":"0.320"},{"r":21,"v":0.0597,"s":"0.320"},{"r":22,"v":0.134,"s":"0.320"},{"r":24,"v":0.0896,"s":"0.320"},{"r":26,"v":0.079,"s":"0.320"},{"r":28,"v":0.069,"s":"0.320"},{"r":32,"v":0.0652,"s":"0.320"},{"r":34,"v":0.0576,"s":"0.320"},{"r":38,"v":0.0445,"s":"0.320"},{"r":40,"v":0.0516,"s":"0.320"},{"r":43,"v":0.043,"s":"0.320"},{"r":46,"v":0.0384,"s":"0.320"},{"r":49,"v":0.0357,"s":"0.320"},{"r":52,"v":0.032,"s":"0.320"},{"r":56,"v":0.04,"s":"0.320"},{"r":60,"v":0.0233,"s":"0.320"},{"r":64,"v":0.0198,"s":"0.320"},{"r":68,"v":0.0171,"s":"0.320"},{"r":73,"v":0.0143,"s":"0.320"},{"r":78,"v":0.0117,"s":"0.320"},{"r":83,"v":0.0095,"s":"0.320"},{"r":89,"v":0.0085,"s":"0.320"},{"r":96,"v":0.0071,"s":"0.320"},{"r":99,"v":0.0055,"s":"0.320"},
   {"r":4,"v":0.461,"s":"0.324"},{"r":5,"v":0.348,"s":"0.324"},{"r":6,"v":0.324,"s":"0.324"},{"r":7,"v":0.279,"s":"0.324"},{"r":8,"v":0.256,"s":"0.324"},{"r":9,"v":0.245,"s":"0.324"},{"r":10,"v":0.2,"s":"0.324"},{"r":12,"v":0.25,"s":"0.324"},{"r":13,"v":0.224,"s":"0.324"},{"r":14,"v":0.212,"s":"0.324"},{"r":15,"v":0.194,"s":"0.324"},{"r":16,"v":0.183,"s":"0.324"},{"r":17,"v":0.176,"s":"0.324"},{"r":18,"v":0.0756,"s":"0.324"},{"r":19,"v":0.2,"s":"0.324"},{"r":20,"v":0.183,"s":"0.324"},{"r":21,"v":0.176,"s":"0.324"},{"r":22,"v":0.17,"s":"0.324"},{"r":24,"v":0.163,"s":"0.324"},{"r":26,"v":0.191,"s":"0.324"},{"r":28,"v":0.153,"s":"0.324"},{"r":30,"v":0.144,"s":"0.324"},{"r":32,"v":0.146,"s":"0.324"},{"r":34,"v":0.134,"s":"0.324"},{"r":37,"v":0.129,"s":"0.324"},{"r":40,"v":0.086,"s":"0.324"},{"r":42,"v":0.12,"s":"0.324"},{"r":45,"v":0.116,"s":"0.324"},{"r":48,"v":0.109,"s":"0.324"},{"r":51,"v":0.106,"s":"0.324"},{"r":55,"v":0.1,"s":"0.324"},{"r":59,"v":0.094,"s":"0.324"},{"r":64,"v":0.092,"s":"0.324"},{"r":70,"v":0.092,"s":"0.324"},{"r":77,"v":0.09,"s":"0.324"},{"r":83,"v":0.0251,"s":"0.324"},{"r":89,"v":0.0745,"s":"0.324"},{"r":95,"v":0.069,"s":"0.324"},{"r":99,"v":0.06,"s":"0.324"},
   {"r":4,"v":0.4,"s":"0.330"},{"r":5,"v":0.376,"s":"0.330"},{"r":6,"v":0.354,"s":"0.330"},{"r":7,"v":0.329,"s":"0.330"},{"r":8,"v":0.305,"s":"0.330"},{"r":10,"v":0.348,"s":"0.330"},{"r":11,"v":0.305,"s":"0.330"},{"r":12,"v":0.284,"s":"0.330"},{"r":13,"v":0.27,"s":"0.330"},{"r":14,"v":0.26,"s":"0.330"},{"r":15,"v":0.245,"s":"0.330"},{"r":16,"v":0.329,"s":"0.330"},{"r":17,"v":0.264,"s":"0.330"},{"r":18,"v":0.256,"s":"0.330"},{"r":19,"v":0.245,"s":"0.330"},{"r":20,"v":0.238,"s":"0.330"},{"r":21,"v":0.228,"s":"0.330"},{"r":22,"v":0.225,"s":"0.330"},{"r":24,"v":0.23,"s":"0.330"},{"r":26,"v":0.216,"s":"0.330"},{"r":28,"v":0.187,"s":"0.330"},{"r":30,"v":0.211,"s":"0.330"},{"r":32,"v":0.2,"s":"0.330"},{"r":34,"v":0.195,"s":"0.330"},{"r":36,"v":0.19,"s":"0.330"},{"r":38,"v":0.188,"s":"0.330"},{"r":40,"v":0.187,"s":"0.330"},{"r":42,"v":0.184,"s":"0.330"},{"r":44,"v":0.181,"s":"0.330"},{"r":46,"v":0.178,"s":"0.330"},{"r":48,"v":0.175,"s":"0.330"},{"r":50,"v":0.172,"s":"0.330"},{"r":54,"v":0.165,"s":"0.330"},{"r":58,"v":0.162,"s":"0.330"},{"r":62,"v":0.157,"s":"0.330"},{"r":66,"v":0.152,"s":"0.330"},{"r":70,"v":0.148,"s":"0.330"},{"r":74,"v":0.145,"s":"0.330"},{"r":78,"v":0.142,"s":"0.330"},{"r":82,"v":0.139,"s":"0.330"},{"r":86,"v":0.136,"s":"0.330"},{"r":90,"v":0.134,"s":"0.330"},{"r":94,"v":0.131,"s":"0.330"},{"r":98,"v":0.129,"s":"0.330"},
   {"r":4,"v":0.461,"s":"x"},{"r":5,"v":0.348,"s":"x"},{"r":6,"v":0.324,"s":"x"},{"r":7,"v":0.279,"s":"x"},{"r":8,"v":0.256,"s":"x"},{"r":9,"v":0.245,"s":"x"},{"r":10,"v":0.2,"s":"x"},{"r":12,"v":0.25,"s":"x"},{"r":13,"v":0.224,"s":"x"},{"r":14,"v":0.212,"s":"x"},{"r":15,"v":0.194,"s":"x"},{"r":16,"v":0.183,"s":"x"},{"r":17,"v":0.176,"s":"x"},{"r":18,"v":0.0756,"s":"x"},{"r":19,"v":0.2,"s":"x"},{"r":20,"v":0.183,"s":"x"},{"r":21,"v":0.176,"s":"x"},{"r":22,"v":0.17,"s":"x"},{"r":24,"v":0.163,"s":"x"},{"r":26,"v":0.191,"s":"x"},{"r":28,"v":0.153,"s":"x"},{"r":30,"v":0.144,"s":"x"},{"r":32,"v":0.146,"s":"x"},{"r":34,"v":0.134,"s":"x"},{"r":37,"v":0.129,"s":"x"},{"r":40,"v":0.0667,"s":"x"},{"r":42,"v":0.12,"s":"x"},{"r":45,"v":0.116,"s":"x"},{"r":48,"v":0.109,"s":"x"},{"r":51,"v":0.106,"s":"x"},{"r":55,"v":0.1,"s":"x"},{"r":59,"v":0.092,"s":"x"},{"r":64,"v":0.085,"s":"x"},{"r":70,"v":0.08,"s":"x"},{"r":77,"v":0.067,"s":"x"},{"r":83,"v":0.041,"s":"x"},{"r":89,"v":0.0535,"s":"x"},{"r":95,"v":0.0486,"s":"x"},{"r":99,"v":0.0445,"s":"x"},
   {"r":4,"v":0.461,"s":"+"},{"r":5,"v":0.348,"s":"+"},{"r":6,"v":0.324,"s":"+"},{"r":7,"v":0.279,"s":"+"},{"r":8,"v":0.256,"s":"+"},{"r":9,"v":0.245,"s":"+"},{"r":10,"v":0.2,"s":"+"},{"r":12,"v":0.25,"s":"+"},{"r":13,"v":0.224,"s":"+"},{"r":14,"v":0.212,"s":"+"},{"r":15,"v":0.194,"s":"+"},{"r":16,"v":0.183,"s":"+"},{"r":17,"v":0.176,"s":"+"},{"r":18,"v":0.0756,"s":"+"},{"r":19,"v":0.2,"s":"+"},{"r":20,"v":0.183,"s":"+"},{"r":21,"v":0.176,"s":"+"},{"r":22,"v":0.17,"s":"+"},{"r":24,"v":0.163,"s":"+"},{"r":26,"v":0.191,"s":"+"},{"r":28,"v":0.153,"s":"+"},{"r":30,"v":0.144,"s":"+"},{"r":32,"v":0.146,"s":"+"},{"r":34,"v":0.134,"s":"+"},{"r":37,"v":0.129,"s":"+"},{"r":40,"v":0.086,"s":"+"},{"r":42,"v":0.12,"s":"+"},{"r":45,"v":0.116,"s":"+"},{"r":48,"v":0.109,"s":"+"},{"r":51,"v":0.106,"s":"+"},{"r":55,"v":0.1,"s":"+"},{"r":59,"v":0.094,"s":"+"},{"r":64,"v":0.092,"s":"+"},{"r":70,"v":0.092,"s":"+"},{"r":77,"v":0.09,"s":"+"},{"r":83,"v":0.0251,"s":"+"},{"r":89,"v":0.0745,"s":"+"},{"r":95,"v":0.069,"s":"+"},{"r":99,"v":0.06,"s":"+"}
  ]
 },
 "columns": 1,
 "align": "none",
 "spacing": 47,
 "resolve": {"scale": {"x": "independent", "y": "independent", "shape": "independent", "fill": "independent"}},
 "concat": [
  {
   "columns": 1,
   "align": "none",
   "spacing": 51,
   "resolve": {"scale": {"x": "independent", "y": "independent", "shape": "independent", "fill": "independent"}},
   "concat": [
    {
     "width": 412, "height": 417,
     "data": {"name": "a"},
     "title": {"text": "(a) chiral correlation", "offset": -24, "dx": -1},
     "layer": [
      {
       "transform": [{"filter": {"field": "s", "oneOf": ["0.316","0.318","0.320","0.324","0.330"]}}],
       "mark": {"type": "point", "filled": true, "stroke": "black", "strokeWidth": 1, "size": 76, "opacity": 1},
       "encoding": {
        "x": {"field": "r", "type": "quantitative", "scale": {"type": "log", "domain": [6.2, 100], "nice": false}, "axis": {"orient": "bottom", "values": [7,8,9,10,20,30,40,50,60,70,80,90,100], "labelExpr": "datum.value == 10 ? '10¹' : datum.value == 100 ? '10²' : ''", "title": "r", "labelPadding": 10, "titlePadding": -24}},
        "y": {"field": "v", "type": "quantitative", "scale": {"type": "log", "domain": [0.000065, 0.49], "nice": false}, "axis": {"orient": "left", "values": [0.00007,0.00008,0.00009,0.0001,0.0002,0.0003,0.0004,0.0005,0.0006,0.0007,0.0008,0.0009,0.001,0.002,0.003,0.004,0.005,0.006,0.007,0.008,0.009,0.01,0.02,0.03,0.04,0.05,0.06,0.07,0.08,0.09,0.1,0.2,0.3,0.4], "labelExpr": "datum.value == 0.0001 ? '10⁻⁴' : datum.value == 0.001 ? '10⁻³' : datum.value == 0.01 ? '10⁻²' : datum.value == 0.1 ? '10⁻¹' : ''", "title": "Cₖ(r)", "labelPadding": 8}},
        "shape": {"field": "s", "type": "nominal", "scale": {"domain": ["0.316","0.318","0.320","0.324","0.330"], "range": ["circle","circle","square","square","triangle-up"]}, "legend": {"legendX": -5, "legendY": 281, "labelOffset": 3, "labelExpr": "datum.label == '0.318' ? ': j = 0.318 ≃ jᴄ₁⁽²⁾' : datum.label == '0.324' ? ': j = 0.324 ≃ jᴄ₂⁽²⁾' : ': j = ' + datum.label"}},
        "fill": {"field": "s", "type": "nominal", "scale": {"domain": ["0.316","0.318","0.320","0.324","0.330"], "range": ["black","white","black","white","black"]}, "legend": {"legendX": -5, "legendY": 281, "labelOffset": 3, "labelExpr": "datum.label == '0.318' ? ': j = 0.318 ≃ jᴄ₁⁽²⁾' : datum.label == '0.324' ? ': j = 0.324 ≃ jᴄ₂⁽²⁾' : ': j = ' + datum.label"}}
       }
      },
      {
       "transform": [{"filter": {"field": "s", "equal": "x"}}],
       "mark": {"type": "point", "shape": "M-1,-1L1,1M-1,1L1,-1", "filled": false, "stroke": "black", "strokeWidth": 1, "size": 48, "opacity": 1},
       "encoding": {"x": {"field": "r", "type": "quantitative", "axis": null}, "y": {"field": "v", "type": "quantitative", "axis": null}}
      },
      {
       "transform": [{"filter": {"field": "s", "equal": "+"}}],
       "mark": {"type": "point", "shape": "M-1,0L1,0M0,-1L0,1", "filled": false, "stroke": "black", "strokeWidth": 1, "size": 64, "opacity": 1},
       "encoding": {"x": {"field": "r", "type": "quantitative", "axis": null}, "y": {"field": "v", "type": "quantitative", "axis": null}}
      },
      {
       "mark": {"type": "point", "opacity": 0},
       "encoding": {
        "x": {"field": "r", "type": "quantitative", "axis": {"orient": "top", "values": [7,8,9,10,20,30,40,50,60,70,80,90,100], "labels": false, "title": "S=2,Δ=0", "titleAnchor": "end", "titlePadding": 6}},
        "y": {"field": "v", "type": "quantitative", "axis": {"orient": "right", "values": [0.00007,0.00008,0.00009,0.0001,0.0002,0.0003,0.0004,0.0005,0.0006,0.0007,0.0008,0.0009,0.001,0.002,0.003,0.004,0.005,0.006,0.007,0.008,0.009,0.01,0.02,0.03,0.04,0.05,0.06,0.07,0.08,0.09,0.1,0.2,0.3,0.4], "labels": false, "title": null}}
       }
      }
     ],
     "resolve": {"axis": {"x": "independent", "y": "independent"}}
    },
    {
     "width": 412, "height": 406,
     "data": {"name": "b"},
     "title": {"text": "(b) string correlation", "offset": -24, "dx": 9},
     "layer": [
      {
       "transform": [{"filter": {"field": "s", "oneOf": ["0.316","0.318","0.320","0.324","0.330"]}}],
       "mark": {"type": "point", "filled": true, "stroke": "black", "strokeWidth": 1, "size": 80, "opacity": 1},
       "encoding": {
        "x": {"field": "r", "type": "quantitative", "scale": {"type": "log", "domain": [3.845, 100], "nice": false}, "axis": {"orient": "bottom", "values": [4,5,6,7,8,9,10,20,30,40,50,60,70,80,90,100], "labelExpr": "datum.value == 10 ? '10¹' : datum.value == 100 ? '10²' : ''", "title": "r", "labelPadding": 18, "titlePadding": -24}},
        "y": {"field": "v", "type": "quantitative", "scale": {"type": "log", "domain": [0.018, 0.048], "nice": false}, "axis": {"orient": "left", "values": [0.018,0.02,0.022,0.024,0.026,0.028,0.03,0.032,0.034,0.036,0.038,0.04,0.042,0.044,0.046], "labelExpr": "datum.value == 0.02 ? '0.02' : datum.value == 0.03 ? '0.03' : datum.value == 0.04 ? '0.04' : ''", "title": "Cₛₜᵣ(r)", "labelPadding": 8}},
        "shape": {"field": "s", "type": "nominal", "scale": {"domain": ["0.316","0.318","0.320","0.324","0.330"], "range": ["circle","circle","square","square","triangle-up"]}, "legend": {"legendX": 12, "legendY": 282, "labelOffset": 3, "labelExpr": "datum.label == '0.318' ? ': j = 0.318 ≃ jᴄ₁⁽²⁾' : datum.label == '0.324' ? ': j = 0.324 ≃ jᴄ₂⁽²⁾' : ': j = ' + datum.label"}},
        "fill": {"field": "s", "type": "nominal", "scale": {"domain": ["0.316","0.318","0.320","0.324","0.330"], "range": ["black","white","black","white","black"]}, "legend": {"legendX": 12, "legendY": 282, "labelOffset": 3, "labelExpr": "datum.label == '0.318' ? ': j = 0.318 ≃ jᴄ₁⁽²⁾' : datum.label == '0.324' ? ': j = 0.324 ≃ jᴄ₂⁽²⁾' : ': j = ' + datum.label"}}
       }
      },
      {
       "transform": [{"filter": {"field": "s", "equal": "x"}}],
       "mark": {"type": "point", "shape": "M-1,-1L1,1M-1,1L1,-1", "filled": false, "stroke": "black", "strokeWidth": 1, "size": 44, "opacity": 1},
       "encoding": {"x": {"field": "r", "type": "quantitative", "axis": null}, "y": {"field": "v", "type": "quantitative", "axis": null}}
      },
      {
       "transform": [{"filter": {"field": "s", "equal": "+"}}],
       "mark": {"type": "point", "shape": "M-1,0L1,0M0,-1L0,1", "filled": false, "stroke": "black", "strokeWidth": 1, "size": 56, "opacity": 1},
       "encoding": {"x": {"field": "r", "type": "quantitative", "axis": null}, "y": {"field": "v", "type": "quantitative", "axis": null}}
      },
      {
       "mark": {"type": "point", "opacity": 0},
       "encoding": {
        "x": {"field": "r", "type": "quantitative", "axis": {"orient": "top", "values": [4,5,6,7,8,9,10,20,30,40,50,60,70,80,90,100], "labels": false, "title": "S=2,Δ=0", "titleAnchor": "end", "titlePadding": 6}},
        "y": {"field": "v", "type": "quantitative", "axis": {"orient": "right", "values": [0.018,0.02,0.022,0.024,0.026,0.028,0.03,0.032,0.034,0.036,0.038,0.04,0.042,0.044,0.046], "labels": false, "title": null}}
       }
      }
     ],
     "resolve": {"axis": {"x": "independent", "y": "independent"}}
    }
   ]
  },
  {
   "width": 412, "height": 413,
   "data": {"name": "c"},
   "title": {"text": "(c) spin correlation", "offset": -24, "dx": 3},
   "layer": [
    {
     "transform": [{"filter": {"field": "s", "oneOf": ["0.316","0.318","0.320","0.324","0.330"]}}],
     "mark": {"type": "point", "filled": true, "stroke": "black", "strokeWidth": 1, "size": 80, "opacity": 1},
     "encoding": {
      "x": {"field": "r", "type": "quantitative", "scale": {"type": "log", "domain": [4.03, 100], "nice": false}, "axis": {"orient": "bottom", "values": [5,6,7,8,9,10,20,30,40,50,60,70,80,90,100], "labelExpr": "datum.value == 10 ? '10¹' : datum.value == 100 ? '10²' : ''", "title": "r", "labelPadding": 12, "titlePadding": -24}},
      "y": {"field": "v", "type": "quantitative", "scale": {"type": "log", "domain": [0.000073, 0.656], "nice": false}, "axis": {"orient": "left", "values": [0.00008,0.00009,0.0001,0.0002,0.0003,0.0004,0.0005,0.0006,0.0007,0.0008,0.0009,0.001,0.002,0.003,0.004,0.005,0.006,0.007,0.008,0.009,0.01,0.02,0.03,0.04,0.05,0.06,0.07,0.08,0.09,0.1,0.2,0.3,0.4,0.5,0.6], "labelExpr": "datum.value == 0.0001 ? '10⁻⁴' : datum.value == 0.001 ? '10⁻³' : datum.value == 0.01 ? '10⁻²' : datum.value == 0.1 ? '10⁻¹' : ''", "title": "Cₛˣ(r)/cos(Qr)", "labelPadding": 8}},
      "shape": {"field": "s", "type": "nominal", "scale": {"domain": ["0.316","0.318","0.320","0.324","0.330"], "range": ["circle","circle","square","square","triangle-up"]}, "legend": {"legendX": 2, "legendY": 283, "labelOffset": 12, "labelExpr": "datum.label == '0.318' ? ': j = 0.318 ≃ jᴄ₁⁽²⁾' : datum.label == '0.324' ? ': j = 0.324 ≃ jᴄ₂⁽²⁾' : ': j = ' + datum.label"}},
      "fill": {"field": "s", "type": "nominal", "scale": {"domain": ["0.316","0.318","0.320","0.324","0.330"], "range": ["black","white","black","white","black"]}, "legend": {"legendX": 2, "legendY": 283, "labelOffset": 12, "labelExpr": "datum.label == '0.318' ? ': j = 0.318 ≃ jᴄ₁⁽²⁾' : datum.label == '0.324' ? ': j = 0.324 ≃ jᴄ₂⁽²⁾' : ': j = ' + datum.label"}}
     }
    },
    {
     "transform": [{"filter": {"field": "s", "equal": "x"}}],
     "mark": {"type": "point", "shape": "M-1,-1L1,1M-1,1L1,-1", "filled": false, "stroke": "black", "strokeWidth": 1, "size": 48, "opacity": 1},
     "encoding": {"x": {"field": "r", "type": "quantitative", "axis": null}, "y": {"field": "v", "type": "quantitative", "axis": null}}
    },
    {
     "transform": [{"filter": {"field": "s", "equal": "+"}}],
     "mark": {"type": "point", "shape": "M-1,0L1,0M0,-1L0,1", "filled": false, "stroke": "black", "strokeWidth": 1, "size": 60, "opacity": 1},
     "encoding": {"x": {"field": "r", "type": "quantitative", "axis": null}, "y": {"field": "v", "type": "quantitative", "axis": null}}
    },
    {
     "mark": {"type": "point", "opacity": 0},
     "encoding": {
      "x": {"field": "r", "type": "quantitative", "axis": {"orient": "top", "values": [5,6,7,8,9,10,20,30,40,50,60,70,80,90,100], "labels": false, "title": "S=2,Δ=0", "titleAnchor": "end", "titlePadding": 6}},
      "y": {"field": "v", "type": "quantitative", "axis": {"orient": "right", "values": [0.00008,0.00009,0.0001,0.0002,0.0003,0.0004,0.0005,0.0006,0.0007,0.0008,0.0009,0.001,0.002,0.003,0.004,0.005,0.006,0.007,0.008,0.009,0.01,0.02,0.03,0.04,0.05,0.06,0.07,0.08,0.09,0.1,0.2,0.3,0.4,0.5,0.6], "labels": false, "title": null}}
     }
    }
   ],
   "resolve": {"axis": {"x": "independent", "y": "independent"}}
  }
 ]
}
